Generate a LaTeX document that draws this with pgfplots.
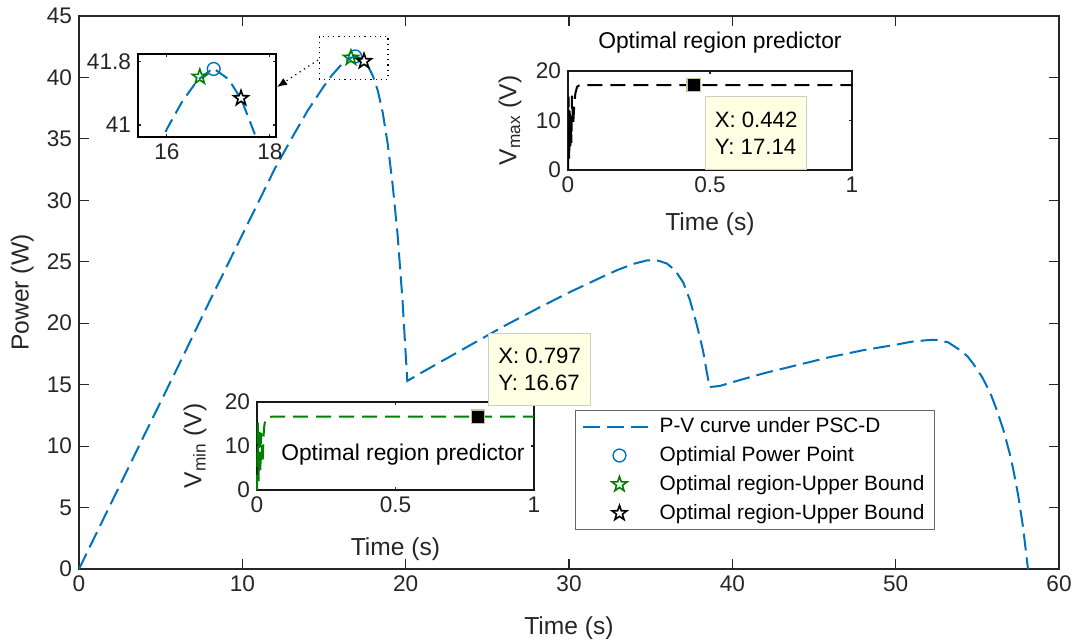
\documentclass[border=0pt]{standalone}
\usepackage{fontspec}
\setmainfont{Liberation Sans}
\usepackage{pgfplots}
\usepackage{pgfplotstable}
\pgfplotsset{compat=1.18}
\usetikzlibrary{arrows.meta}

\definecolor{mblue}{rgb}{0,0.447,0.741}
\definecolor{mgreen}{rgb}{0,0.5,0}
\definecolor{tipfill}{RGB}{255,255,228}
\definecolor{tipborder}{RGB}{205,205,195}
\definecolor{tipmark}{RGB}{200,195,150}
\definecolor{axgray}{gray}{0.15}

\pgfdeclareplotmark{pentagram}{%
  \pgfpathmoveto{\pgfpointpolar{90}{\pgfplotmarksize}}%
  \pgfpathlineto{\pgfpointpolar{126}{0.4\pgfplotmarksize}}%
  \pgfpathlineto{\pgfpointpolar{162}{\pgfplotmarksize}}%
  \pgfpathlineto{\pgfpointpolar{198}{0.4\pgfplotmarksize}}%
  \pgfpathlineto{\pgfpointpolar{234}{\pgfplotmarksize}}%
  \pgfpathlineto{\pgfpointpolar{270}{0.4\pgfplotmarksize}}%
  \pgfpathlineto{\pgfpointpolar{306}{\pgfplotmarksize}}%
  \pgfpathlineto{\pgfpointpolar{342}{0.4\pgfplotmarksize}}%
  \pgfpathlineto{\pgfpointpolar{18}{\pgfplotmarksize}}%
  \pgfpathlineto{\pgfpointpolar{54}{0.4\pgfplotmarksize}}%
  \pgfpathclose
  \pgfusepathqstroke
}

\pgfplotstableread{
x y
0 0
2 5.45
4 10.9
6 16.3
8 21.8
10 27.2
12 32.6
12.5 33.8
13 35.0
14 37.3
15 39.3
15.5 40.2
16 40.95
16.3 41.3
16.6 41.57
16.9 41.72
17.2 41.58
17.45 41.32
17.7 40.9
18.0 40.1
18.3 38.9
18.6 37.1
18.9 34.6
19.2 31.3
19.5 27.3
19.8 22.0
20.1 15.3
21 16.0
22 16.75
24 18.25
26 19.75
28 21.15
30 22.5
32 23.75
33 24.35
34 24.85
34.8 25.12
35.5 25.08
36.0 24.85
36.5 24.3
37.0 23.3
37.4 21.9
37.8 20.0
38.2 17.8
38.6 14.8
39.25 14.9
40 15.2
42 15.95
44 16.6
46 17.25
48 17.8
50 18.25
51 18.5
52 18.63
52.5 18.65
53.2 18.45
53.9 17.85
54.4 17.3
54.75 16.7
55.3 15.6
55.8 14.3
56.2 12.9
56.6 11.3
57.0 9.3
57.2 8.1
57.5 6.0
57.8 3.4
58.1 0
}\pvdata

\pgfplotstableread{
t v
0 0
0.002 14.8
0.004 2
0.006 12
0.008 4
0.010 11
0.012 5.5
0.014 15
0.018 9
0.022 13
0.026 15.5
0.032 16.8
0.040 17.1
0.060 17.14
1 17.14
}\vmaxdata

\pgfplotstableread{
t v
0 0
0.003 15.5
0.006 2
0.009 14
0.012 4
0.015 13
0.020 6
0.025 14
0.030 16
0.040 16.6
0.060 16.67
1 16.67
}\vmindata

\pgfplotsset{
  mstyle/.style={
    scale only axis,
    axis line style={line width=0.9pt, axgray},
    tick style={axgray, line width=0.6pt},
    tick align=inside,
    axis background/.style={fill=white},
    /pgf/number format/assume math mode=true,
    tick label style={font=\fontsize{11.3}{13}\selectfont, text=axgray},
    label style={font=\fontsize{12.3}{14}\selectfont, text=axgray},
  },
}

\begin{document}
\begin{tikzpicture}
\useasboundingbox (0,0) rectangle (538.5pt,320.5pt);

% ---------------- main axis ----------------
\begin{axis}[
  mstyle,
  at={(39.5pt,36pt)}, anchor=south west,
  width=490pt, height=276.5pt,
  xmin=0, xmax=60, ymin=0, ymax=45,
  xtick={0,10,...,60}, ytick={0,5,...,45},
  major tick length=5pt,
  xlabel={Time (s)}, ylabel={Power (W)},
  xlabel style={at={(axis description cs:0.5,-0.107)}, anchor=center},
  ylabel style={at={(axis description cs:-0.058,0.5)}, anchor=center},
  legend image code/.code={\draw[mark repeat=2,mark phase=2,#1] plot coordinates {(0pt,0pt) (18pt,0pt) (36pt,0pt)};},
  legend style={at={(0.8735,0.2875)}, anchor=north east, draw=black!60, fill=white,
    font=\fontsize{10.4}{12}\selectfont, row sep=2.2pt, inner xsep=3.5pt, inner ysep=2pt,
    nodes={inner sep=1.6pt, text=black}, cells={anchor=west}},
  clip=false,
]
\addplot[mblue, line width=1pt, dash pattern=on 8.5pt off 3.5pt] table[x=x,y=y] {\pvdata};
\addlegendentry{P-V curve under PSC-D}
\addplot[only marks, mark=o, mark size=3.2pt, mblue, mark options={line width=0.7pt}] coordinates {(16.91,41.71)};
\addlegendentry{Optimial Power Point}
\addplot[only marks, mark=pentagram, mark size=3.9pt, mgreen, mark options={line width=0.8pt}] coordinates {(16.65,41.6)};
\addlegendentry{Optimal region-Upper Bound}
\addplot[only marks, mark=pentagram, mark size=3.9pt, black, mark options={line width=0.8pt}] coordinates {(17.45,41.32)};
\addlegendentry{Optimal region-Upper Bound}
\draw[dotted, line width=0.6pt] (axis cs:14.7,39.85) rectangle (axis cs:18.92,43.36);
\end{axis}

% ---------------- zoom inset (top left) ----------------
\begin{axis}[
  mstyle,
  at={(69pt,252pt)}, anchor=south west,
  width=69pt, height=41.5pt,
  xmin=15.44, xmax=18.12, ymin=40.85, ymax=41.9,
  xtick={16,18}, ytick={41,41.8},
  yticklabels={41,41.8},
  major tick length=1.5pt,
  axis line style={line width=1.1pt, black},
]
\addplot[mblue, line width=1pt, dash pattern=on 7pt off 3.5pt] table[x=x,y=y] {\pvdata};
\addplot[only marks, mark=o, mark size=3.2pt, mblue, mark options={line width=0.7pt}] coordinates {(16.91,41.71)};
\addplot[only marks, mark=pentagram, mark size=3.9pt, mgreen, mark options={line width=0.8pt}] coordinates {(16.64,41.61)};
\addplot[only marks, mark=pentagram, mark size=3.9pt, black, mark options={line width=0.8pt}] coordinates {(17.44,41.34)};
\end{axis}

% ---------------- Vmax inset ----------------
\begin{axis}[
  mstyle,
  at={(284pt,235.5pt)}, anchor=south west,
  width=142pt, height=49.5pt,
  xmin=0, xmax=1, ymin=0, ymax=20,
  xtick={0,0.5,1}, ytick={0,10,20},
  xticklabels={0,0.5,1},
  major tick length=1.6pt,
  axis line style={line width=1.1pt, black!90},
  xlabel={Time (s)}, ylabel={V\textsubscript{max} (V)},
  xlabel style={at={(axis description cs:0.5,-0.55)}, anchor=center},
  ylabel style={at={(axis description cs:-0.204,0.5)}, anchor=center},
  title={Optimal region predictor},
  title style={at={(axis description cs:0.535,1.162)}, anchor=center, font=\fontsize{11.4}{13}\selectfont, text=black},
]
\addplot[black, line width=1pt, dash pattern=on 7.5pt off 4pt] table[x=t,y=v] {\vmaxdata};
\addplot[only marks, mark=square*, mark size=3.3pt, mark options={fill=black, draw=tipmark, line width=0.6pt}] coordinates {(0.442,17.14)};
\end{axis}

% ---------------- Vmin inset ----------------
\begin{axis}[
  mstyle,
  at={(128.5pt,75.5pt)}, anchor=south west,
  width=138.5pt, height=44pt,
  xmin=0, xmax=1, ymin=0, ymax=20,
  xtick={0,0.5,1}, ytick={0,10,20},
  xticklabels={0,0.5,1},
  major tick length=1.6pt,
  axis line style={line width=1.1pt, black!90},
  xlabel={Time (s)}, ylabel={V\textsubscript{min} (V)},
  xlabel style={at={(axis description cs:0.5,-0.67)}, anchor=center},
  ylabel style={at={(axis description cs:-0.224,0.5)}, anchor=center},
  clip=false,
]
\addplot[mgreen, line width=1pt, dash pattern=on 7.5pt off 4pt] table[x=t,y=v] {\vmindata};
\addplot[only marks, mark=square*, mark size=3.3pt, mark options={fill=black, draw=tipmark, line width=0.6pt}] coordinates {(0.797,16.67)};
\node[font=\fontsize{11.4}{13}\selectfont, text=black] at (axis cs:0.527,8) {Optimal region predictor};
\end{axis}

% ---------------- annotations ----------------
\draw[dotted, line width=0.6pt, -{Latex[length=5pt,width=4pt]}] (159pt,290.5pt) -- (138.5pt,277pt);

\node[draw=tipborder, fill=tipfill, line width=0.6pt, align=left, anchor=north west,
      minimum width=50.5pt, minimum height=36.5pt, inner sep=2pt,
      font=\fontsize{11.1}{13.5}\selectfont, text=black] at (352.5pt,272.5pt) {X: 0.442\\Y: 17.14};
\node[draw=tipborder, fill=tipfill, line width=0.6pt, align=left, anchor=north west,
      minimum width=51pt, minimum height=36pt, inner sep=2pt,
      font=\fontsize{11.1}{13.5}\selectfont, text=black] at (244pt,154pt) {X: 0.797\\Y: 16.67};
\end{tikzpicture}
\end{document}
